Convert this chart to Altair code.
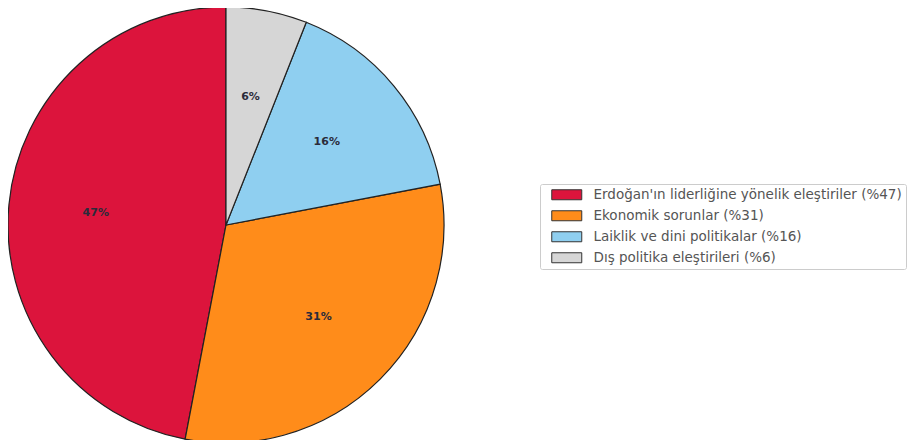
import altair as alt
import pandas as pd

categories = [
    "Erdoğan'ın liderliğine yönelik eleştiriler (%47)",
    "Ekonomik sorunlar (%31)",
    "Laiklik ve dini politikalar (%16)",
    "Dış politika eleştirileri (%6)",
]
values = [47, 31, 16, 6]
pct_labels = ["47%", "31%", "16%", "6%"]
colors = ["#DC143C", "#FF8C1A", "#8FCFF0", "#D6D6D6"]
# drawing order clockwise from 12 o'clock
draw_order = [4, 3, 2, 1]

df = pd.DataFrame({
    "category": categories,
    "value": values,
    "label": pct_labels,
    "ord": draw_order,
})

R = 218
CX, CY = 218, 217

base = alt.Chart(df).encode(
    theta=alt.Theta("value:Q", stack=True),
    order=alt.Order("ord:Q", sort="ascending"),
)

pie = base.mark_arc(
    radius=R, stroke="#222222", strokeWidth=1.2
).encode(
    x=alt.value(CX),
    y=alt.value(CY),
    color=alt.Color(
        "category:N",
        scale=alt.Scale(domain=categories, range=colors),
        sort=categories,
        legend=alt.Legend(
            title=None,
            orient="none",
            legendX=532,
            legendY=176,
            symbolType="M-3,-1L3,-1L3,1L-3,1Z",
            symbolSize=100,
            symbolStrokeColor="#333333",
            symbolStrokeWidth=1,
            symbolOffset=16,
            labelOffset=20,
            labelFont="DejaVu Sans",
            labelFontSize=13.5,
            labelColor="#555555",
            labelLimit=0,
            rowPadding=6,
            padding=4,
            strokeColor="#cccccc",
            fillColor="white",
            cornerRadius=2,
        ),
    ),
)

text = base.mark_text(
    radius=R * 0.6,
    font="DejaVu Sans",
    fontSize=11,
    fontWeight="bold",
    color="#2b2b3a",
).encode(
    x=alt.value(CX),
    y=alt.value(CY),
    text="label:N",
)

chart = (pie + text).properties(
    width=904, height=432, padding=0, autosize="none"
).configure_view(stroke=None)

chart.save("out.html", embed_options={"renderer": "svg", "actions": False})
